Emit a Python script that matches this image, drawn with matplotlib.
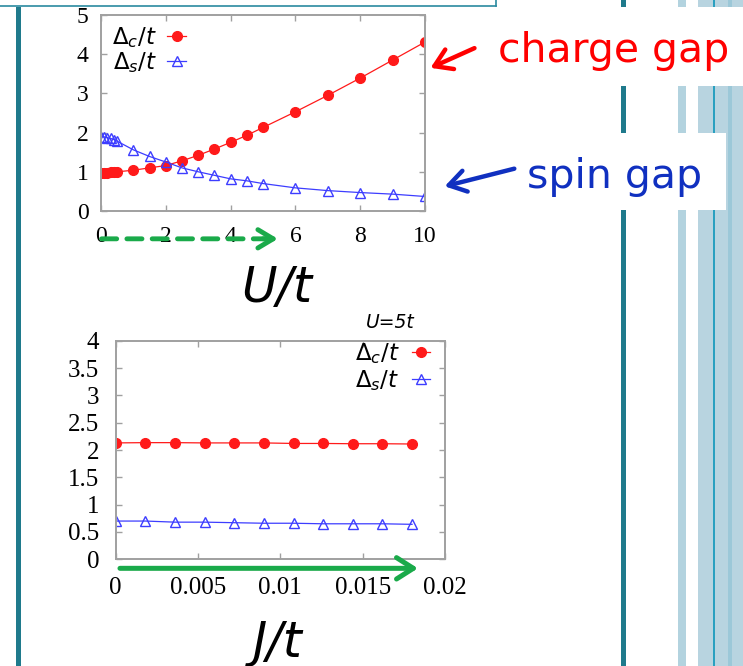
import matplotlib
matplotlib.use('Agg')
import matplotlib.pyplot as plt
from matplotlib.patches import Rectangle

plt.rcParams['mathtext.fontset'] = 'dejavusans'

# top panel: gaps vs U/t
u_vals = [0, 0.1, 0.2, 0.3, 0.4, 0.5, 1, 1.5, 2, 2.5, 3, 3.5, 4, 4.5, 5, 6, 7, 8, 9, 10]
charge_u = [0.98, 0.98, 0.98, 0.99, 0.99, 1.0, 1.04, 1.10, 1.16, 1.28, 1.42, 1.58, 1.75, 1.93,
            2.13, 2.53, 2.95, 3.39, 3.85, 4.31]
spin_u = [1.90, 1.89, 1.87, 1.85, 1.82, 1.78, 1.56, 1.39, 1.25, 1.10, 1.00, 0.91, 0.82, 0.77,
          0.70, 0.59, 0.52, 0.47, 0.43, 0.37]

# bottom panel: gaps vs J/t at U=5t
j_vals = [0, 0.0018, 0.0036, 0.0054, 0.0072, 0.009, 0.0108, 0.0126, 0.0144, 0.0162, 0.018]
charge_j = [2.13, 2.135, 2.135, 2.13, 2.13, 2.13, 2.12, 2.12, 2.115, 2.115, 2.11]
spin_j = [0.70, 0.70, 0.68, 0.68, 0.67, 0.66, 0.66, 0.65, 0.65, 0.65, 0.64]

y_ticks_j = [0, 0.5, 1, 1.5, 2, 2.5, 3, 3.5, 4]
y_ticklabels_j = ['0', '0.5', '1', '1.5', '2', '2.5', '3', '3.5', '4']
x_ticks_j = [0, 0.005, 0.01, 0.015, 0.02]
x_ticklabels_j = ['0', '0.005', '0.01', '0.015', '0.02']

RED = '#ff1a1a'
BLUE = '#3d3dff'
GREEN = '#1aaa4a'
TEAL = '#1f7a8c'
FRAME = '#a0a0a0'
serif = 'Liberation Serif'

fig = plt.figure(figsize=(7.43, 6.66), dpi=100)

# slide background in pixel coordinates
bg = fig.add_axes([0, 0, 1, 1], zorder=0)
bg.set_xlim(0, 743)
bg.set_ylim(666, 0)
bg.axis('off')
bg.add_patch(Rectangle((16, 7), 5, 660, color=TEAL, lw=0))
bg.plot([0, 496], [6, 6], color='#2a8aa0', lw=1.2)
bg.plot([496, 496], [0, 6], color='#2a8aa0', lw=1.2)
bg.add_patch(Rectangle((620.5, 0), 5.5, 666, color=TEAL, lw=0))
for x0, w, c in [(678, 8, '#b3d3df'), (698, 15, '#b8d4e0'), (713, 2, '#2aa0c0'),
                 (715, 13, '#b8d4e0'), (728, 4, '#9cc8d8'), (732, 11, '#b8d4e0')]:
    bg.add_patch(Rectangle((x0, 0), w, 666, color=c, lw=0))
bg.add_patch(Rectangle((490, 7), 253, 79, color='white', lw=0))
bg.add_patch(Rectangle((600, 133), 126, 77, color='white', lw=0))

bg.text(498, 62, 'charge gap', color='#ff0000', fontsize=29.5, family='DejaVu Sans',
        ha='left', va='baseline')
bg.text(527, 188, 'spin gap', color='#1030c0', fontsize=29.5, family='DejaVu Sans',
        ha='left', va='baseline')
bg.annotate('', xy=(428, 69), xytext=(477, 47),
            arrowprops=dict(arrowstyle='->,head_length=0.55,head_width=0.35',
                            color='#ff0000', lw=3.2, mutation_scale=22))
bg.annotate('', xy=(442, 187), xytext=(517, 168),
            arrowprops=dict(arrowstyle='->,head_length=0.55,head_width=0.35',
                            color='#1030c0', lw=3.2, mutation_scale=22))
bg.text(277, 288, 'U/t', fontsize=35, family='DejaVu Sans', style='italic',
        ha='center', va='center')
bg.text(278, 643, 'J/t', fontsize=35, family='DejaVu Sans', style='italic',
        ha='center', va='center')
bg.text(390, 323, 'U=5t', fontsize=13.5, family='DejaVu Sans', style='italic',
        ha='center', va='center')


def style_axes(ax, labelsize, xpad, ypad):
    for s in ax.spines.values():
        s.set_color(FRAME)
        s.set_linewidth(1.4)
    ax.tick_params(direction='in', length=4, width=1, color=FRAME,
                   top=True, right=True, labelsize=labelsize)
    ax.tick_params(axis='x', pad=xpad)
    ax.tick_params(axis='y', pad=ypad)
    for lab in ax.get_xticklabels() + ax.get_yticklabels():
        lab.set_family(serif)


# top plot
ax1 = fig.add_axes([0.1359, 0.6832, 0.4361, 0.2943], zorder=1)
ax1.plot(u_vals, charge_u, color=RED, lw=0.9, marker='o', ms=7, mec=RED, mfc=RED,
         label=r'$\Delta_c/t$')
ax1.plot(u_vals, spin_u, color=BLUE, lw=0.9, marker='^', ms=7, mec=BLUE, mfc='none',
         mew=1, label=r'$\Delta_s/t$')
ax1.set_xlim(0, 10)
ax1.set_ylim(0, 5)
ax1.set_xticks([0, 2, 4, 6, 8, 10])
ax1.set_yticks([0, 1, 2, 3, 4, 5])
style_axes(ax1, 17, 11, 9)
ax1.legend(loc='upper left', bbox_to_anchor=(0.035, 0.95), frameon=False, markerfirst=False,
           fontsize=16.5, handlelength=0.8, handletextpad=0.45, labelspacing=0.0,
           borderpad=0, borderaxespad=0)

# green dashed arrow under the U axis
ax1.annotate('', xy=(5.2, -0.71), xytext=(0.02, -0.71), annotation_clip=False,
             arrowprops=dict(arrowstyle='-', color=GREEN, lw=3.5, linestyle=(0, (3.1, 2.1)),
                             shrinkA=0, shrinkB=0))
ax1.annotate('', xy=(5.46, -0.71), xytext=(5.0, -0.71), annotation_clip=False,
             arrowprops=dict(arrowstyle='->,head_length=0.5,head_width=0.3', color=GREEN,
                             lw=3.5, mutation_scale=22, shrinkA=0, shrinkB=0))

# bottom plot
ax2 = fig.add_axes([0.1557, 0.1602, 0.4432, 0.3282], zorder=1)
ax2.plot(j_vals, charge_j, color=RED, lw=0.9, marker='o', ms=7, mec=RED, mfc=RED,
         label=r'$\Delta_c/t$')
ax2.plot(j_vals, spin_j, color=BLUE, lw=0.9, marker='^', ms=7, mec=BLUE, mfc='none',
         mew=1, label=r'$\Delta_s/t$')
ax2.set_xlim(0, 0.02)
ax2.set_ylim(0, 4)
ax2.set_xticks(x_ticks_j)
ax2.set_xticklabels(x_ticklabels_j)
ax2.set_yticks(y_ticks_j)
ax2.set_yticklabels(y_ticklabels_j)
style_axes(ax2, 18, 13, 12)
ax2.legend(loc='upper right', bbox_to_anchor=(0.955, 1.0), frameon=False, markerfirst=False,
           fontsize=16.5, handlelength=0.8, handletextpad=0.55, labelspacing=0.1,
           borderpad=0, borderaxespad=0)

ax2.annotate('', xy=(0.01836, -0.165), xytext=(0.00026, -0.165), annotation_clip=False,
             arrowprops=dict(arrowstyle='->,head_length=0.55,head_width=0.35', color=GREEN,
                             lw=3.6, mutation_scale=22, shrinkA=0, shrinkB=0))

fig.savefig('out.png', dpi=100)
